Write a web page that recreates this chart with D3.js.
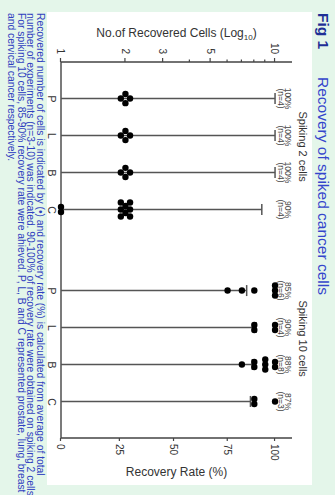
<!DOCTYPE html>
<html>
<head>
<meta charset="utf-8">
<script src="https://cdn.jsdelivr.net/npm/d3@7"></script>
<style>
  html, body { margin: 0; padding: 0; background: #e4f6ea; }
  svg { display: block; font-family: "Liberation Sans", Arial, sans-serif; }
</style>
</head>
<body>
<div id="chart"></div>
<script>
// data
const groups = ["Spiking 2 cells", "Spiking 10 cells"];
const cancers = ["P", "L", "B", "C"];
const recoveryRate = [[100, 100, 100, 90], [85, 90, 88, 87]];   // label text (%)
const nExp = [[4, 4, 4, 4], [6, 4, 8, 3]];
const barTop = [[100, 100, 100, 93], [85, 90, 88, 87]];         // where the bar / cap ends (%)
const cellsFound = [
    [[2, 2, 2, 2], [2, 2, 2, 2], [2, 2, 2, 2], [1, 1, 2, 2, 2, 2, 2, 2, 2, 2]],
    [[6, 7, 8, 10, 10, 10], [8, 8, 10, 10], [7, 8, 8, 9, 9, 9, 10, 10], [8, 8, 10]]
];
const cellTicks = [1, 2, 3, 5, 10];
const cellMinorTicks = [4, 6, 7, 8, 9];
const rateTicks = [0, 25, 50, 75, 100];
const rateTickFrac = [0, 0.275, 0.528, 0.779, 1];   // tick spacing on the printed axis is uneven
const title = ["Fig 1", "Recovery of spiked cancer cells"];
const caption = [
    "Recovered number of cells is indicated by (\u2022) and recovery rate (%) is calculated from average of total",
    "number of experiments (n=3-10) was indicated. 90-100% of recovery rate were obtained on spiking 2 cells",
    "For spiking 10 cells, 85-90% recovery rate were ahieved. P, L, B and C represented prostate, lung, breast",
    "and cervical cancer respectively."
];

const W = 335, H = 495;
const svg = d3.select("#chart").append("svg")
    .attr("width", W)
    .attr("height", H);
svg.append("rect").attr("width", W).attr("height", H).attr("fill", "#e4f6ea");

// the page is a landscape figure (495 x 335) turned 90deg clockwise
const fig = svg.append("g").attr("transform", `translate(${W},0) rotate(90)`);

fig.append("rect")
    .attr("x", 12).attr("y", 23)
    .attr("width", 473).attr("height", 265)
    .attr("fill", "#fff");

const plot = { left: 62, right: 438, top: 43, bottom: 274 };
const axisColor = "#444";

// scales
const xGroup = d3.scaleBand()
    .domain(groups)
    .range([plot.left, plot.right])
    .paddingInner(0.23)
    .paddingOuter(0.094);
const xCat = d3.scalePoint()
    .domain(cancers)
    .range([0, xGroup.bandwidth()])
    .padding(0.5);
const yCells = d3.scaleLog()
    .domain([1, 12])
    .range([plot.bottom, plot.top]);
const rateEnd = yCells(10);
const yRate = d3.scaleLinear()
    .domain(rateTicks)
    .range(rateTickFrac.map(f => plot.bottom + f * (rateEnd - plot.bottom)));

// left axis: number of cells (log)
const gLeft = fig.append("g").attr("transform", `translate(${plot.left},0)`);
gLeft.call(d3.axisLeft(yCells).tickValues(cellTicks).tickFormat(d3.format("d")).tickSize(4).tickSizeOuter(0).tickPadding(4));
gLeft.append("g").call(d3.axisLeft(yCells).tickValues(cellMinorTicks).tickFormat("").tickSize(2.5).tickSizeOuter(0));
gLeft.selectAll(".domain").remove();
gLeft.selectAll("text").attr("font-size", 10).attr("fill", "#333").attr("font-family", null);

// right axis: recovery rate
const gRight = fig.append("g").attr("transform", `translate(${plot.right},0)`);
gRight.call(d3.axisRight(yRate).tickValues(rateTicks).tickSize(3).tickSizeOuter(0).tickPadding(3));
gRight.selectAll(".domain").remove();
gRight.selectAll("text").attr("font-size", 10).attr("fill", "#333").attr("font-family", null);

[gLeft, gRight].forEach(g => g.selectAll("line").attr("stroke", axisColor).attr("stroke-width", 1.2));

// axis lines
fig.append("path")
    .attr("d", `M${plot.left},${plot.top}V${plot.bottom}H${plot.right}V${plot.top}`)
    .attr("fill", "none")
    .attr("stroke", axisColor)
    .attr("stroke-width", 1.4);

// category labels
groups.forEach(g => {
    const ax = fig.append("g")
        .attr("transform", `translate(${xGroup(g)},${plot.bottom})`)
        .call(d3.axisBottom(xCat).tickSize(0).tickPadding(5.5));
    ax.select(".domain").remove();
    ax.selectAll("text").attr("font-size", 10.5).attr("fill", "#333").attr("font-family", null);
});

// bars with caps, then the dots
const cluster = n => {
    if (n === 4) return [[0, -4.6], [-4.6, 0], [4.6, 0], [0, 4.6]];
    if (n === 8) return [[-7, -4.6], [0, -4.6], [7, -4.6], [-3.5, 0], [3.5, 0], [-7, 4.6], [0, 4.6], [7, 4.6]];
    return d3.range(n).map(i => [(i - (n - 1) / 2) * 5, 0]);
};

groups.forEach((g, gi) => {
    cancers.forEach((c, ci) => {
        const u = xGroup(g) + xCat(c);
        const top = yRate(barTop[gi][ci]);
        fig.append("line")
            .attr("x1", u).attr("x2", u)
            .attr("y1", yRate(0)).attr("y2", top)
            .attr("stroke", "#555").attr("stroke-width", 1.5);
        fig.append("line")
            .attr("x1", u - 5.5).attr("x2", u + 5.5)
            .attr("y1", top).attr("y2", top)
            .attr("stroke", "#555").attr("stroke-width", 1.5);

        const counts = d3.rollups(cellsFound[gi][ci], v => v.length, d => d);
        const pts = counts.flatMap(([val, n]) => cluster(n).map(o => ({ val, du: o[0], dv: o[1] })));
        fig.selectAll(null)
            .data(pts)
            .enter().append("circle")
            .attr("cx", d => u + d.du)
            .attr("cy", d => yCells(d.val) + d.dv)
            .attr("r", 3.2)
            .attr("fill", "#000");

        const lab = fig.append("text")
            .attr("x", u)
            .attr("text-anchor", "middle")
            .attr("font-size", 8.5)
            .attr("fill", "#444");
        lab.append("tspan").attr("x", u).attr("y", 50).text(recoveryRate[gi][ci] + "%");
        lab.append("tspan").attr("x", u).attr("y", 57.5).text(`(n=${nExp[gi][ci]})`);
    });

    fig.append("text")
        .attr("x", xGroup(g) + xGroup.bandwidth() * 0.45)
        .attr("y", 36)
        .attr("text-anchor", "middle")
        .attr("font-size", 11)
        .attr("fill", "#333")
        .text(g);
});

// axis titles
const leftTitle = fig.append("text")
    .attr("transform", `translate(37,${(plot.top + plot.bottom) / 2}) rotate(-90)`)
    .attr("text-anchor", "middle")
    .attr("font-size", 12)
    .attr("fill", "#333");
leftTitle.append("tspan").text("No.of Recovered Cells (Log");
leftTitle.append("tspan").attr("font-size", 8).attr("dy", 3).text("10");
leftTitle.append("tspan").attr("dy", -3).text(")");

fig.append("text")
    .attr("transform", `translate(476,${(plot.top + plot.bottom) / 2}) rotate(-90)`)
    .attr("text-anchor", "middle")
    .attr("font-size", 12)
    .attr("fill", "#333")
    .text("Recovery Rate (%)");

// figure title
fig.append("text")
    .attr("x", 13).attr("y", 17.5)
    .attr("font-size", 15.5)
    .attr("font-weight", "bold")
    .attr("fill", "#1f2f96")
    .text(title[0]);
fig.append("text")
    .attr("x", 77).attr("y", 17.5)
    .attr("font-size", 15.5)
    .attr("fill", "#3445cc")
    .text(title[1]);

// caption
fig.append("g").selectAll("text")
    .data(caption)
    .enter().append("text")
    .attr("x", 13)
    .attr("y", (d, i) => 298.5 + i * 9.4)
    .attr("font-size", 10.3)
    .attr("fill", "#3040c0")
    .text(d => d);
</script>
</body>
</html>
